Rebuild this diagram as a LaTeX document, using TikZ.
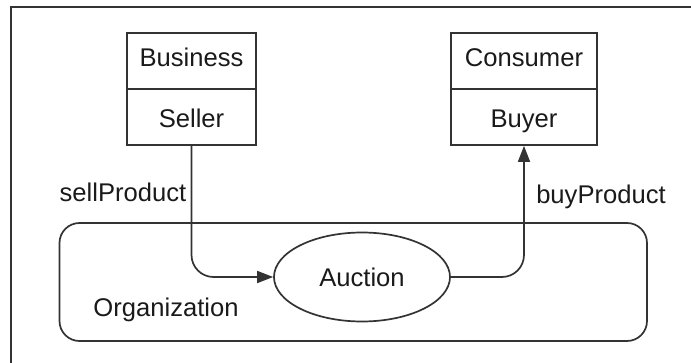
\documentclass[tikz,border=0pt]{standalone}
\usepackage{fontspec}
\setmainfont{Liberation Sans}
\usetikzlibrary{arrows.meta,shapes.geometric}
\definecolor{ink}{HTML}{333333}
\definecolor{txt}{HTML}{1A1A1A}
\begin{document}
\begin{tikzpicture}[x=1pt,y=-1pt,
  every node/.style={font=\fontsize{25.6}{28}\selectfont,text=txt},
  part/.style={draw=ink,line width=1.7pt,rectangle,minimum height=56pt,inner sep=0pt},
  toppart/.style={part,text height=18.3pt,text depth=8pt},
  botpart/.style={part,text height=22pt,text depth=0pt},
  link/.style={draw=ink,line width=1.7pt,rounded corners=22pt},
  tip/.style={-{Triangle[length=16pt,width=12pt]}}
]
\useasboundingbox (0,0) rectangle (691,363);
\draw[ink,line width=1.7pt] (11,363) -- (11,7) -- (691,7);
% organization
\node[draw=ink,line width=1.7pt,rounded corners=20pt,minimum width=587.5pt,minimum height=118pt,inner sep=0pt] (org) at (353.25,282) {};
\node[anchor=center] (orglabel) at (166,310) {Organization};
% boxes
\node[toppart,minimum width=129pt] (business) at (191.5,61) {Business};
\node[botpart,minimum width=129pt] (seller) at (191.5,117) {Seller};
\node[toppart,minimum width=146pt] (consumer) at (524,61) {Consumer};
\node[botpart,minimum width=146pt] (buyer) at (524,117) {Buyer};
% auction
\node[draw=ink,line width=1.7pt,ellipse,minimum width=176pt,minimum height=89pt,inner sep=0pt] (auction) at (362,277) {Auction};
% connectors
\draw[link,tip] (seller.south) |- (auction.west);
\draw[link,tip] (auction.east) -| (buyer.south);
% labels
\node (sell) at (123,192) {sellProduct};
\node (buy) at (601,197) {buyProduct};
\end{tikzpicture}
\end{document}
